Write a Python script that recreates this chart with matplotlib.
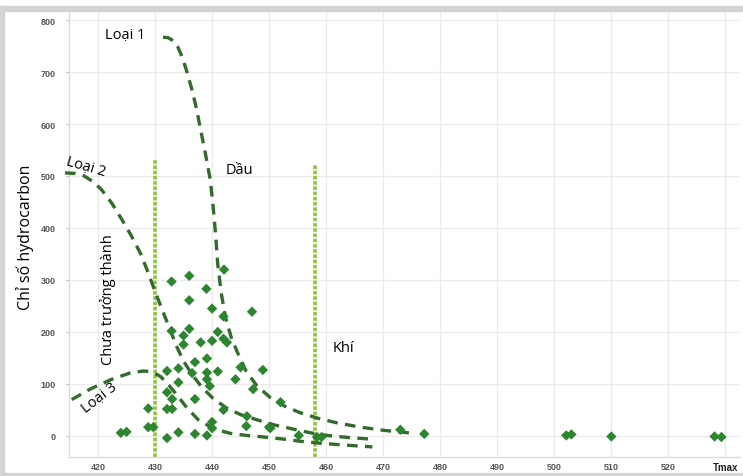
import matplotlib.pyplot as plt
from matplotlib.patches import Rectangle

plt.rcParams['font.family'] = ['Open Sans', 'DejaVu Sans']

# Tmax / hydrocarbon index samples
tmax = [424.0, 425.0, 428.8, 428.8, 429.7, 432.9, 436.0, 439.0, 436.0, 442.1,
        440.0, 447.0, 442.0, 432.9, 436.0, 435.0, 441.0, 435.0, 438.0, 440.0,
        442.0, 442.6, 437.0, 439.1, 432.1, 434.1, 436.5, 439.1, 441.0, 439.1,
        439.6, 444.1, 445.0, 448.9, 434.1, 432.1, 433.0, 437.0, 432.1, 433.0,
        434.1, 437.0, 432.1, 440.0, 440.0, 439.1, 442.0, 446.1, 446.0, 450.0,
        447.2, 452.0, 450.2, 455.2, 458.4, 459.2, 473.0, 477.2, 502.1, 503.0,
        510.0, 528.1, 529.3]
hi = [6, 8, 53, 17, 17, 297, 308, 283, 261, 320,
      245, 239, 230, 202, 206, 193, 200, 176, 180, 183,
      187, 180, 142, 149, 125, 130, 121, 122, 124, 109,
      96, 109, 132, 127, 103, 84, 71, 71, 52, 52,
      7, 4, -4, 27, 15, 1, 50, 38, 19, 17,
      90, 65, 15, 1, -2, -2, 12, 4, 1, 3,
      -1, -1, -2]

# kerogen type boundary curves
loai1_x = [431.4, 432.3, 433.2, 434.0, 434.8, 435.6, 436.5, 437.3, 437.9, 438.8,
           439.7, 440.2, 440.6, 441.0, 441.6, 442.4, 443.4, 444.6, 446.0, 447.9,
           450.2, 452.8, 455.6, 458.6, 462.0, 466.0, 470.0, 474.5]
loai1_y = [767, 766, 760, 748, 728, 700, 665, 628, 594, 545,
           492, 440, 390, 330, 275, 226, 188, 157, 124, 96,
           74, 57, 44, 34, 25, 17, 11, 6]
loai2_x = [414.2, 416.0, 417.6, 419.0, 420.6, 422.4, 424.2, 425.9, 427.5, 428.8,
           430.0, 431.5, 432.8, 433.8, 435.0, 436.5, 438.2, 440.2, 442.5, 445.0,
           447.9, 451.0, 454.3, 457.3, 460.2, 464.0, 467.8]
loai2_y = [506, 505, 500, 490, 474, 448, 416, 384, 350, 314,
           278, 236, 200, 172, 144, 118, 94, 72, 54, 41,
           31, 21, 13, 6, 1, -3, -6]
loai3_x = [415.4, 418.6, 422.4, 425.6, 428.0, 429.6, 431.0, 432.4, 433.9, 435.6,
           437.6, 440.3, 443.2, 446.1, 449.1, 452.5, 456.1, 460.2, 464.0, 468.1]
loai3_y = [70, 90, 109, 121, 125, 123, 114, 98, 78, 54,
           31, 14, 5, 1, -2, -6, -11, -15, -18, -21]

# maturity limits (Tmax) and their drawn heights
limit_x = [430, 458]
limit_top = [533, 523]

xticks = [420, 430, 440, 450, 460, 470, 480, 490, 500, 510, 520, 530]
xtick_labels = ['420', '430', '440', '450', '460', '470', '480', '490', '500', '510', '520', 'Tmax']
yticks = [0, 100, 200, 300, 400, 500, 600, 700, 800]

fig = plt.figure(figsize=(7.43, 4.77), dpi=100)
ax = fig.add_axes([0.0935, 0.0403, 0.902, 0.932])

# grey frame around the picture
W, H = 743, 477
frame_col = '#d4d4d4'
for (x0, y0, w, h) in [(0, 7, W, 5), (0, 7, 4, H - 7), (0, 474, W, 3)]:
    fig.patches.append(Rectangle((x0 / W, 1 - (y0 + h) / H), w / W, h / H,
                                 transform=fig.transFigure, color=frame_col, zorder=0))

ax.set_xlim(415, 532.5)
ax.set_ylim(-40, 815)
ax.set_xticks(xticks)
ax.set_xticklabels(xtick_labels)
ax.set_yticks(yticks)
ax.grid(True, color='#ebebeb', lw=1)
ax.set_axisbelow(True)
for s in ['top', 'right']:
    ax.spines[s].set_visible(False)
for s in ['left', 'bottom']:
    ax.spines[s].set_color('#dcdcdc')
    ax.spines[s].set_linewidth(1)
ax.tick_params(axis='y', length=2, color='#bbbbbb', pad=8, labelsize=6.5, labelcolor='#555555')
ax.tick_params(axis='x', length=0, pad=3.5, labelsize=6.5, labelcolor='#555555')
for lab in ax.get_yticklabels() + ax.get_xticklabels():
    lab.set_fontweight('bold')
    lab.set_family(['Liberation Sans', 'DejaVu Sans'])
ax.get_xticklabels()[-1].set_color('#222222')
ax.get_xticklabels()[-1].set_fontsize(7)

# maturity limits
for lx, lt in zip(limit_x, limit_top):
    ax.plot([lx, lx], [-40, lt], color='#8cc63f', lw=2.6, ls=(0, (1, 0.45)), zorder=2)

# type curves
curve_col = '#336b2c'
for cx, cy in [(loai1_x, loai1_y), (loai2_x, loai2_y), (loai3_x, loai3_y)]:
    ax.plot(cx, cy, color=curve_col, lw=2.4, ls=(0, (3.2, 2.2)), clip_on=False, zorder=3)

ax.scatter(tmax, hi, marker='D', s=28, color='#2e8530', edgecolors='none', zorder=4)

# annotations
fs = 10.5
ax.text(421.2, 773, 'Loại 1', fontsize=fs, ha='left', va='center')
ax.text(417.9, 519, 'Loại 2', fontsize=fs, ha='center', va='center', rotation=-16)
ax.text(442.3, 513, 'Dầu', fontsize=fs, ha='left', va='center')
ax.text(421.8, 265, 'Chưa trưởng thành', fontsize=fs, ha='center', va='center', rotation=90)
ax.text(461.2, 171, 'Khí', fontsize=fs, ha='left', va='center')
ax.text(420.2, 75, 'Loại 3', fontsize=fs, ha='center', va='center', rotation=38)

fig.text(25 / W, 1 - 237 / H, 'Chỉ số hydrocarbon', fontsize=11.5, rotation=90,
         ha='center', va='center')

fig.savefig('out.png', dpi=100)
